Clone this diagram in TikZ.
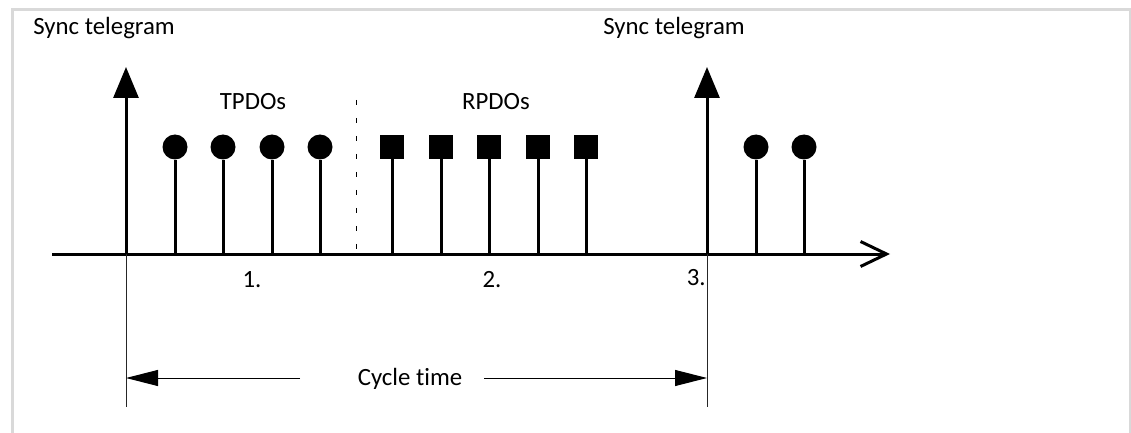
\documentclass[tikz,border=0pt]{standalone}
\usepackage{fontspec}
\setmainfont[Ligatures=NoCommon]{Carlito}
\usetikzlibrary{arrows.meta}

\begin{document}
\begin{tikzpicture}[
	x=0.5pt, y=-0.5pt,
	lbl/.style = {inner sep=0, font=\fontsize{12.4}{14}\selectfont},
	tp/.style = {circle, fill=black, inner sep=0, minimum size=12.5pt},
	rp/.style = {rectangle, fill=black, inner sep=0, minimum size=12pt},
	stem/.style = {line width=1.5pt},
	sync/.style = {-{Triangle[length=15.5pt, width=12.5pt]}, line width=1.5pt},
	guide/.style = {line width=0.5pt, draw=black!85},
	span/.style = {-{Triangle[length=16pt, width=8pt]}, line width=0.5pt}
	]
	\useasboundingbox (0,0) rectangle (1131,433);
	
	%Frame
	\draw[draw=black!15, line width=1.5pt] (12,433) -- (12,10) -- (1130,10) -- (1130,433);
	
	%Nodes
	\node[lbl, anchor=base west]	(sync-l)	at	(33, 35)	{Sync telegram};
	\node[lbl, anchor=base west]	(sync-r)	at	(603, 35)	{Sync telegram};
	\node[lbl, anchor=base]			(tpdo)		at	(253, 110)	{TPDOs};
	\node[lbl, anchor=base]			(rpdo)		at	(496, 110)	{RPDOs};
	\node[lbl]						(n1)		at	(252, 280)	{1.};
	\node[lbl]						(n2)		at	(492, 280)	{2.};
	\node[lbl, anchor=east]			(n3)		at	(706, 278)	{3.};
	\node[lbl, anchor=base]			(cycle)		at	(410, 385)	{Cycle time};
	
	\node[tp]	(t1)	at	(175, 147)	{};
	\node[tp]	(t2)	at	(223, 147)	{};
	\node[tp]	(t3)	at	(272, 147)	{};
	\node[tp]	(t4)	at	(320, 147)	{};
	\node[rp]	(r1)	at	(392, 147)	{};
	\node[rp]	(r2)	at	(441, 147)	{};
	\node[rp]	(r3)	at	(489, 147)	{};
	\node[rp]	(r4)	at	(538, 147)	{};
	\node[rp]	(r5)	at	(586, 147)	{};
	\node[tp]	(t5)	at	(756, 147)	{};
	\node[tp]	(t6)	at	(804, 147)	{};
	
	\coordinate	(ax-l)		at	(52, 254);
	\coordinate	(ax-r)		at	(890, 254);
	\coordinate	(s1-top)	at	(126, 67);
	\coordinate	(s2-top)	at	(707, 67);
	\coordinate	(g1)		at	(126, 407);
	\coordinate	(g2)		at	(707, 407);
	\coordinate	(sep-top)	at	(356, 100);
	\coordinate	(c-l)		at	(300, 378);
	\coordinate	(c-r)		at	(484, 378);
	
	%Lines
	\draw[-{Straight Barb[length=13pt, width=12.5pt]}, line width=1.5pt]	(ax-l)	--	(ax-r);
	\draw[sync]		(s1-top |- ax-l)	--	(s1-top);
	\draw[sync]		(s2-top |- ax-l)	--	(s2-top);
	\draw[stem]		(t1 |- ax-l)	--	(t1);
	\draw[stem]		(t2 |- ax-l)	--	(t2);
	\draw[stem]		(t3 |- ax-l)	--	(t3);
	\draw[stem]		(t4 |- ax-l)	--	(t4);
	\draw[stem]		(r1 |- ax-l)	--	(r1);
	\draw[stem]		(r2 |- ax-l)	--	(r2);
	\draw[stem]		(r3 |- ax-l)	--	(r3);
	\draw[stem]		(r4 |- ax-l)	--	(r4);
	\draw[stem]		(r5 |- ax-l)	--	(r5);
	\draw[stem]		(t5 |- ax-l)	--	(t5);
	\draw[stem]		(t6 |- ax-l)	--	(t6);
	\draw[line width=0.5pt, dash pattern=on 2.5pt off 6.5pt]	(sep-top)	--	(sep-top |- ax-l);
	\draw[guide]	(s1-top |- ax-l)	--	(g1);
	\draw[guide]	(s2-top |- ax-l)	--	(g2);
	\draw[span]		(c-l)	--	(g1 |- c-l);
	\draw[span]		(c-r)	--	(g2 |- c-r);
	
\end{tikzpicture}
\end{document}
